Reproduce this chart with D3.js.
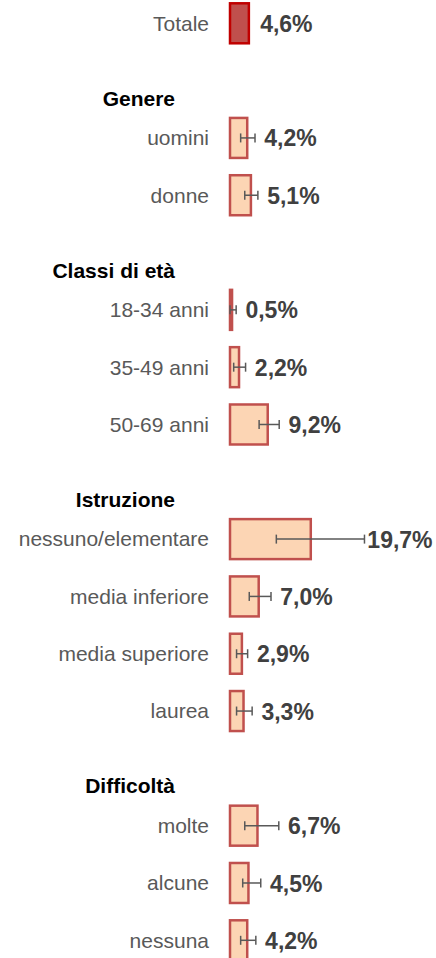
<html>
<head>
<title>Totale per gruppi</title>
<script src="https://d3js.org/d3.v7.min.js"></script>
<style>
body { margin: 0; background: #fff; font-family: Arial, 'Liberation Sans', sans-serif; }
</style>
</head>
<body>
<svg id="chart" width="436" height="958"></svg>
<script type="text/javascript">
// data
var totalLabel = "Totale";
var totalValue = 4.6;

var groups = ["Genere", "Classi di età", "Istruzione", "Difficoltà"];
var categories = ["uomini", "donne",
	"18-34 anni", "35-49 anni", "50-69 anni",
	"nessuno/elementare", "media inferiore", "media superiore", "laurea",
	"molte", "alcune", "nessuna"];
var categoryGroup = [0, 0, 1, 1, 1, 2, 2, 2, 2, 3, 3, 3];
var values = [4.2, 5.1, 0.5, 2.2, 9.2, 19.7, 7.0, 2.9, 3.3, 6.7, 4.5, 4.2];
var lower = [2.6, 3.6, 0.0, 0.9, 7.1, 11.3, 4.7, 1.6, 1.6, 3.6, 3.1, 2.6];
var upper = [6.1, 6.8, 1.5, 3.8, 12.0, 32.8, 10.0, 4.3, 5.4, 11.9, 7.5, 6.3];

var width = 436;
var height = 958;
var fmt = function(v){ return d3.format(".1f")(v).replace(".", ",") + "%"; };

// one slot per row: totale, then header + rows for every group
var slots = [{type: "total", key: "total"}];
groups.forEach(function(g, gi){
	slots.push({type: "header", key: "h" + gi, txt: g});
	categories.forEach(function(c, i){
		if (categoryGroup[i] == gi) {
			slots.push({type: "row", key: "r" + i, txt: c, v: values[i], lo: lower[i], hi: upper[i]});
		}
	});
});

var yScale = d3.scalePoint()
	.domain(slots.map(function(d){ return d.key; }))
	.range([23.3, 940.3]);
var xScale = d3.scaleLinear()
	.domain([0, 20])
	.range([230, 312]);
var barH = 40;
var labelOffset = 35.5; // value label is centred this far past the bar / whisker

var svg = d3.select("#chart");

// total row
var total = svg.append("g").attr("transform", "translate(0," + yScale("total") + ")");
total.append("text")
	.attr("x", 209).attr("y", 0).attr("dy", "0.35em")
	.attr("text-anchor", "end")
	.style("font-size", "21px").style("fill", "#595959")
	.text(totalLabel);
total.append("rect")
	.attr("x", xScale(0)).attr("y", -barH / 2)
	.attr("width", xScale(totalValue) - xScale(0)).attr("height", barH)
	.style("fill", "#c0504d").style("stroke", "#c00000").style("stroke-width", 2.5);
total.append("text")
	.attr("x", xScale(totalValue) + labelOffset + 2).attr("y", 0).attr("dy", "0.37em")
	.attr("text-anchor", "middle")
	.style("font-size", "23px").style("font-weight", "bold").style("fill", "#404040")
	.text(fmt(totalValue));

// group headers
svg.selectAll("text.header")
	.data(slots.filter(function(d){ return d.type == "header"; }))
	.enter().append("text")
	.attr("class", "header")
	.attr("x", 175)
	.attr("y", function(d){ return yScale(d.key) + 25; })
	.attr("text-anchor", "end")
	.style("font-size", "21px").style("font-weight", "bold").style("fill", "#000")
	.text(function(d){ return d.txt; });

// category rows
var rows = svg.selectAll("g.row")
	.data(slots.filter(function(d){ return d.type == "row"; }))
	.enter().append("g")
	.attr("class", "row")
	.attr("transform", function(d){ return "translate(0," + yScale(d.key) + ")"; });

rows.append("text")
	.attr("x", 209).attr("y", 0).attr("dy", "0.35em")
	.attr("text-anchor", "end")
	.style("font-size", "21px").style("fill", "#595959")
	.text(function(d){ return d.txt; });

rows.append("rect")
	.attr("x", xScale(0)).attr("y", -barH / 2)
	.attr("width", function(d){ return xScale(d.v) - xScale(0); })
	.attr("height", barH)
	.style("fill", "#fcd5b4").style("stroke", "#c0504d").style("stroke-width", 2.5);

// error bars
rows.append("line")
	.attr("x1", function(d){ return xScale(d.lo); })
	.attr("x2", function(d){ return xScale(d.hi); })
	.attr("y1", 0).attr("y2", 0)
	.style("stroke", "#595959").style("stroke-width", 1.5);
rows.append("line")
	.attr("x1", function(d){ return xScale(d.lo); })
	.attr("x2", function(d){ return xScale(d.lo); })
	.attr("y1", -4.5).attr("y2", 4.5)
	.style("stroke", "#595959").style("stroke-width", 1.5);
rows.append("line")
	.attr("x1", function(d){ return xScale(d.hi); })
	.attr("x2", function(d){ return xScale(d.hi); })
	.attr("y1", -4.5).attr("y2", 4.5)
	.style("stroke", "#595959").style("stroke-width", 1.5);

rows.append("text")
	.attr("x", function(d){ return Math.max(xScale(d.v), xScale(d.hi)) + labelOffset; })
	.attr("y", 0).attr("dy", "0.37em")
	.attr("text-anchor", "middle")
	.style("font-size", "23px").style("font-weight", "bold").style("fill", "#404040")
	.text(function(d){ return fmt(d.v); });

</script>
</body>
</html>
